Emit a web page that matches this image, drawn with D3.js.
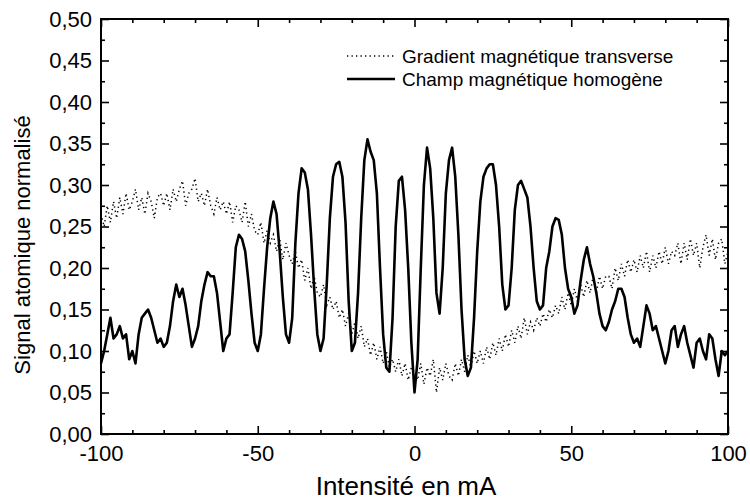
<!DOCTYPE html>
<html>
<head>
<meta charset="utf-8">
<script src="https://cdn.jsdelivr.net/npm/d3@7"></script>
<style>
  html, body { margin: 0; padding: 0; background: #fff; overflow: hidden; }
  svg { display: block; }
  text { font-family: "Liberation Sans", Arial, sans-serif; fill: #000; }
</style>
</head>
<body>
<div id="chart"></div>
<script>
// Intensity (mA) sampling positions, shared by both series
const intensity = [
  -100,-99,-98,-97,-96,-95,-94,-93,-92,-91,-90,-89,-88,-87,-86,-85,-84,-83,-82,-81,
  -80,-79,-78,-77,-76,-75,-74,-73,-72,-71,-70,-69,-68,-67,-66,-65,-64,-63,-62,-61,
  -60,-59,-58,-57,-56,-55,-54,-53,-52,-51,-50,-49,-48,-47,-46,-45,-44,-43,-42,-41,
  -40,-39,-38,-37,-36,-35,-34,-33,-32,-31,-30,-29,-28,-27,-26,-25,-24,-23,-22,-21,
  -20,-19,-18,-17,-16,-15,-14,-13,-12,-11,-10,-9,-8,-7,-6,-5,-4,-3,-2,-1,
  0,1,2,3,4,5,6,7,8,9,10,11,12,13,14,15,16,17,18,19,
  20,21,22,23,24,25,26,27,28,29,30,31,32,33,34,35,36,37,38,39,
  40,41,42,43,44,45,46,47,48,49,50,51,52,53,54,55,56,57,58,59,
  60,61,62,63,64,65,66,67,68,69,70,71,72,73,74,75,76,77,78,79,
  80,81,82,83,84,85,86,87,88,89,90,91,92,93,94,95,96,97,98,99,100
];

// "Champ magnétique homogène" (solid line)
const champHomogene = [
  .085,.10,.12,.14,.115,.12,.13,.115,.12,.09,.10,.085,.12,.14,.145,.15,.14,.125,.11,.115,
  .105,.11,.13,.16,.18,.165,.175,.155,.13,.105,.115,.13,.16,.18,.195,.19,.19,.17,.135,.10,
  .115,.12,.17,.225,.24,.235,.22,.185,.145,.11,.10,.12,.175,.225,.26,.28,.265,.22,.165,.12,
  .11,.14,.23,.29,.32,.315,.295,.24,.175,.12,.10,.115,.18,.26,.31,.325,.328,.31,.255,.16,
  .10,.11,.17,.26,.33,.355,.34,.33,.29,.20,.12,.08,.075,.14,.25,.305,.31,.27,.20,.11,
  .05,.09,.20,.30,.345,.32,.26,.17,.145,.20,.29,.33,.345,.31,.24,.15,.09,.07,.08,.14,
  .22,.28,.31,.32,.325,.325,.30,.25,.18,.15,.155,.20,.27,.30,.305,.295,.285,.25,.20,.16,
  .15,.155,.20,.22,.25,.26,.258,.24,.20,.175,.165,.145,.155,.185,.21,.225,.205,.19,.17,.145,
  .13,.125,.135,.15,.16,.175,.175,.165,.14,.12,.11,.115,.105,.13,.155,.145,.125,.13,.115,.10,
  .085,.10,.125,.13,.105,.12,.13,.11,.095,.08,.11,.115,.10,.09,.12,.115,.09,.07,.10,.095,.10
];

// "Gradient magnétique transverse" (dotted line)
const gradientTransverse = [
  .265,.25,.275,.255,.28,.26,.285,.265,.29,.27,.28,.295,.27,.285,.265,.29,.28,.26,.285,.29,
  .275,.29,.27,.295,.28,.295,.305,.275,.29,.295,.308,.28,.29,.275,.295,.275,.265,.285,.27,.28,
  .265,.28,.255,.275,.27,.255,.28,.25,.265,.245,.24,.255,.23,.245,.23,.24,.22,.235,.21,.23,
  .215,.205,.22,.20,.21,.185,.20,.175,.19,.17,.165,.18,.155,.165,.15,.16,.14,.15,.13,.145,
  .12,.135,.115,.13,.105,.115,.095,.11,.09,.105,.085,.10,.08,.09,.075,.09,.07,.085,.065,.08,
  .075,.065,.085,.06,.08,.07,.09,.05,.08,.065,.085,.07,.065,.085,.07,.09,.075,.095,.08,.10,
  .085,.10,.085,.105,.09,.11,.095,.115,.10,.12,.105,.125,.11,.13,.115,.14,.12,.135,.125,.14,
  .13,.145,.135,.15,.14,.155,.145,.165,.15,.17,.155,.175,.16,.18,.165,.185,.17,.19,.17,.19,
  .175,.19,.19,.175,.20,.185,.205,.19,.21,.195,.21,.195,.215,.20,.22,.195,.215,.20,.22,.205,
  .225,.205,.22,.215,.23,.205,.23,.21,.235,.215,.23,.20,.225,.24,.215,.235,.21,.23,.235,.205,.22
];

const xMajorTicks = [-100, -50, 0, 50, 100];
const yMajorTicks = [0, 0.05, 0.10, 0.15, 0.20, 0.25, 0.30, 0.35, 0.40, 0.45, 0.50];
const legendLabels = ["Gradient magnétique transverse", "Champ magnétique homogène"];

/*******************************/
/*    Declare the constants    */
/*******************************/
const width = 750;
const height = 504;
const margin = {top: 19, right: 22, bottom: 70, left: 101};
const innerWidth = width - margin.left - margin.right;
const innerHeight = height - margin.top - margin.bottom;

const locale = d3.formatLocale({decimal: ",", thousands: " ", grouping: [3], currency: ["", ""], minus: "-"});
const fmtY = locale.format(".2f");
const fmtX = locale.format("d");

const svg = d3.select("#chart")
  .append("svg")
    .attr("width", width)
    .attr("height", height);

const inner = svg.append("g")
  .attr("transform", `translate(${margin.left}, ${margin.top})`);

/****************************/
/*    Declare the scales    */
/****************************/
const xScale = d3.scaleLinear().domain([-100, 100]).range([0, innerWidth]);
const yScale = d3.scaleLinear().domain([0, 0.5]).range([innerHeight, 0]);

/**************************/
/*      Add the axes      */
/**************************/
const majorLen = 8, minorLen = 4;
const xMinor = d3.range(-90, 100, 10).filter(v => v % 50 !== 0);
const yMinor = d3.range(0.025, 0.5, 0.05);

const addAxis = (axis, transform, labels) => {
  const g = inner.append("g").attr("transform", transform).call(axis);
  g.select(".domain").remove();
  g.selectAll("line").attr("stroke-width", 1.6);
  if (labels) g.selectAll("text").attr("font-size", 22);
  else g.selectAll("text").remove();
};

// bottom
addAxis(d3.axisBottom(xScale).tickValues(xMajorTicks).tickSize(-majorLen).tickPadding(11).tickFormat(fmtX),
  `translate(0, ${innerHeight})`, true);
addAxis(d3.axisBottom(xScale).tickValues(xMinor).tickSize(-minorLen), `translate(0, ${innerHeight})`, false);
// top
addAxis(d3.axisTop(xScale).tickValues(xMajorTicks).tickSize(-majorLen), "translate(0,0)", false);
addAxis(d3.axisTop(xScale).tickValues(xMinor).tickSize(-minorLen), "translate(0,0)", false);
// left
addAxis(d3.axisLeft(yScale).tickValues(yMajorTicks).tickSize(-majorLen).tickPadding(9).tickFormat(fmtY),
  "translate(0,0)", true);
addAxis(d3.axisLeft(yScale).tickValues(yMinor).tickSize(-minorLen), "translate(0,0)", false);
// right
addAxis(d3.axisRight(yScale).tickValues(yMajorTicks).tickSize(-majorLen), `translate(${innerWidth},0)`, false);
addAxis(d3.axisRight(yScale).tickValues(yMinor).tickSize(-minorLen), `translate(${innerWidth},0)`, false);

// frame
inner.append("rect")
  .attr("width", innerWidth)
  .attr("height", innerHeight)
  .attr("fill", "none")
  .attr("stroke", "#000")
  .attr("stroke-width", 2);

/**************************/
/*      Add the lines     */
/**************************/
const line = d3.line()
  .x(d => xScale(d[0]))
  .y(d => yScale(d[1]));

inner.append("path")
  .datum(d3.zip(intensity, gradientTransverse))
  .attr("d", line)
  .attr("fill", "none")
  .attr("stroke", "#000")
  .attr("stroke-width", 1.5)
  .attr("stroke-dasharray", "1.3,3.2");

inner.append("path")
  .datum(d3.zip(intensity, champHomogene))
  .attr("d", line)
  .attr("fill", "none")
  .attr("stroke", "#000")
  .attr("stroke-width", 2.6)
  .attr("stroke-linejoin", "round");

/**************************/
/*      Axis titles       */
/**************************/
svg.append("text")
  .text("Intensité en mA")
  .attr("text-anchor", "middle")
  .attr("font-size", 26)
  .attr("x", 406)
  .attr("y", 495);

svg.append("text")
  .text("Signal atomique normalisé")
  .attr("text-anchor", "middle")
  .attr("font-size", 22)
  .attr("transform", "translate(30, 245) rotate(-90)");

/**************************/
/*        Legend          */
/**************************/
const legend = svg.append("g");
legendLabels.forEach((label, i) => {
  const y = 56 + i * 23;
  legend.append("line")
    .attr("x1", 347).attr("x2", 395)
    .attr("y1", y).attr("y2", y)
    .attr("stroke", "#000")
    .attr("stroke-width", i === 0 ? 1.5 : 2.4)
    .attr("stroke-dasharray", i === 0 ? "1.3,3.2" : null);
  legend.append("text")
    .text(label)
    .attr("font-size", 19)
    .attr("x", 402)
    .attr("y", y + 6.5);
});
</script>
</body>
</html>
